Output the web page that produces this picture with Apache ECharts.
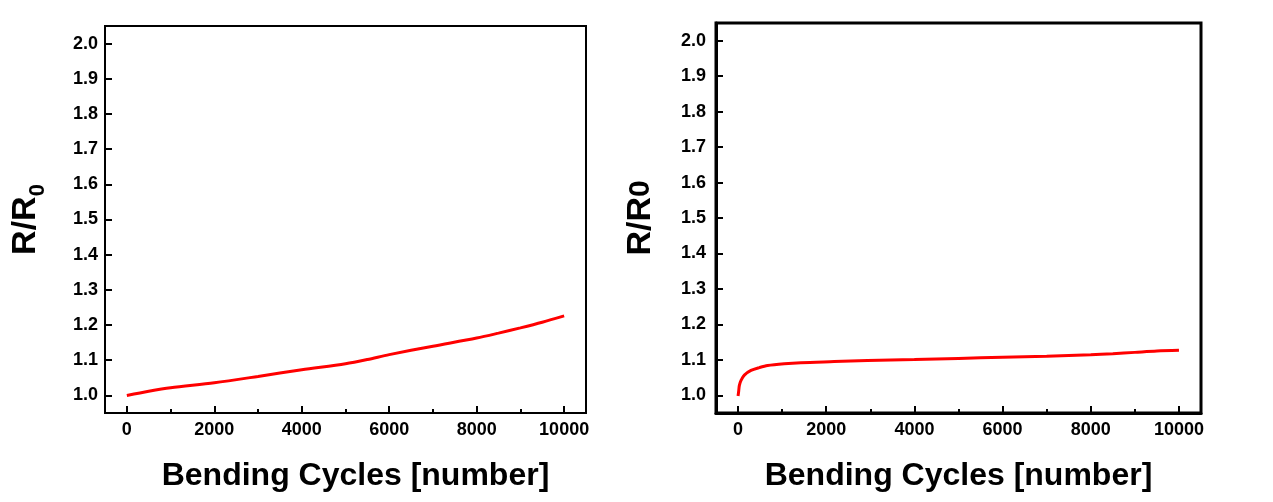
<!DOCTYPE html>
<html>
<head>
<meta charset="utf-8">
<script src="https://cdn.jsdelivr.net/npm/echarts@6/dist/echarts.min.js"></script>
<style>
html,body{margin:0;padding:0;background:#fff;}
#c{width:1273px;height:502px;}
</style>
</head>
<body>
<div id="c"></div>
<script>
// Left panel data
var leftCycles = [0, 500, 1000, 2000, 3000, 4000, 5000, 5500, 6000, 7000, 8000, 8500, 9000, 9500, 10000];
var leftRatio  = [1.000, 1.012, 1.022, 1.036, 1.054, 1.073, 1.090, 1.102, 1.116, 1.140, 1.163, 1.177, 1.192, 1.208, 1.226];
// Right panel data
var rightCycles = [0, 8, 15, 30, 68, 143, 294, 483, 671, 1048, 1425, 2180, 2934, 4000, 5000, 6000, 7000, 8000, 8500, 9000, 9500, 10000];
var rightRatio  = [0.998, 1.005, 1.012, 1.028, 1.042, 1.057, 1.070, 1.078, 1.084, 1.089, 1.092, 1.095, 1.098, 1.101, 1.104, 1.107, 1.110, 1.114, 1.117, 1.121, 1.125, 1.127];
// Tick labels
var xMajorTicks = [0, 2000, 4000, 6000, 8000, 10000];
var xMinorTicks = [1000, 3000, 5000, 7000, 9000];
var yTicks = [1.0, 1.1, 1.2, 1.3, 1.4, 1.5, 1.6, 1.7, 1.8, 1.9, 2.0];
var xTitle = 'Bending Cycles [number]';

var FONT = "'Liberation Sans', Arial, sans-serif";

function pairs(xs, ys){ return xs.map(function(x,i){ return [x, ys[i]]; }); }

function xAxes(gi, lw, titlePad){
  return [
    {
      type:'value', gridIndex:gi, position:'bottom', min:-500, max:10500,
      axisLine:{show:true, onZero:false, lineStyle:{color:'#000', width:lw}},
      axisTick:{show:true, inside:true, length:7, customValues:xMajorTicks, lineStyle:{color:'#000', width:2}},
      axisLabel:{show:true, customValues:xMajorTicks, margin:8, color:'#000', fontFamily:FONT, fontWeight:'bold', fontSize:18,
        formatter:function(v){return String(v);}},
      splitLine:{show:false},
      name:xTitle, nameLocation:'middle', nameGap:47,
      nameTextStyle:{color:'#000', fontFamily:FONT, fontWeight:'bold', fontSize:32, padding:titlePad}
    },
    {
      type:'value', gridIndex:gi, position:'bottom', min:-500, max:10500,
      axisLine:{show:false},
      axisTick:{show:true, inside:true, length:4, customValues:xMinorTicks, lineStyle:{color:'#000', width:2}},
      axisLabel:{show:false},
      splitLine:{show:false}
    }
  ];
}

function yAxis(gi, lw, margin, gap, name, rich){
  return {
    type:'value', gridIndex:gi, min:0.95, max:2.05,
    axisLine:{show:true, onZero:false, lineStyle:{color:'#000', width:lw}},
    axisTick:{show:true, inside:true, length:7, customValues:yTicks, lineStyle:{color:'#000', width:2}},
    axisLabel:{show:true, customValues:yTicks, margin:margin, color:'#000', fontFamily:FONT, fontWeight:'bold', fontSize:18,
      formatter:function(v){return v.toFixed(1);}},
    splitLine:{show:false},
    name:name, nameLocation:'middle', nameGap:gap, nameRotate:90,
    nameTextStyle:{color:'#000', fontFamily:FONT, fontWeight:'bold', fontSize:34, rich:rich}
  };
}

var chart = echarts.init(document.getElementById('c'), null, {renderer:'canvas'});
var xa = xAxes(0, 2, [0, 0, 0, 20]).concat(xAxes(1, 3, [0, 0, 0, 0]));
chart.setOption({
  animation:false,
  backgroundColor:'#fff',
  grid:[
    {left:105, top:26, width:481, height:387, show:true, borderColor:'#000', borderWidth:2, backgroundColor:'transparent'},
    {left:716, top:23, width:485, height:390, show:true, borderColor:'#000', borderWidth:3, backgroundColor:'transparent'}
  ],
  xAxis: xa,
  yAxis:[
    yAxis(0, 2, 7, 56, '{a|R/R}{s|0}', {
      a:{fontFamily:FONT, fontWeight:'bold', fontSize:34, lineHeight:46, color:'#000'},
      s:{fontFamily:FONT, fontWeight:'bold', fontSize:22, lineHeight:20, verticalAlign:'bottom', color:'#000'}
    }),
    yAxis(1, 3, 10, 56, '{a|R/R}{s|0}', {
      a:{fontFamily:FONT, fontWeight:'bold', fontSize:34, lineHeight:38, color:'#000'},
      s:{fontFamily:FONT, fontWeight:'bold', fontSize:30, lineHeight:38, color:'#000'}
    })
  ],
  series:[
    {type:'line', xAxisIndex:0, yAxisIndex:0, data:pairs(leftCycles, leftRatio), showSymbol:false, smooth:0.3,
      lineStyle:{color:'#ff0000', width:3}},
    {type:'line', xAxisIndex:2, yAxisIndex:1, data:pairs(rightCycles, rightRatio), showSymbol:false, smooth:0.3,
      lineStyle:{color:'#ff0000', width:3}}
  ]
});
</script>
</body>
</html>
